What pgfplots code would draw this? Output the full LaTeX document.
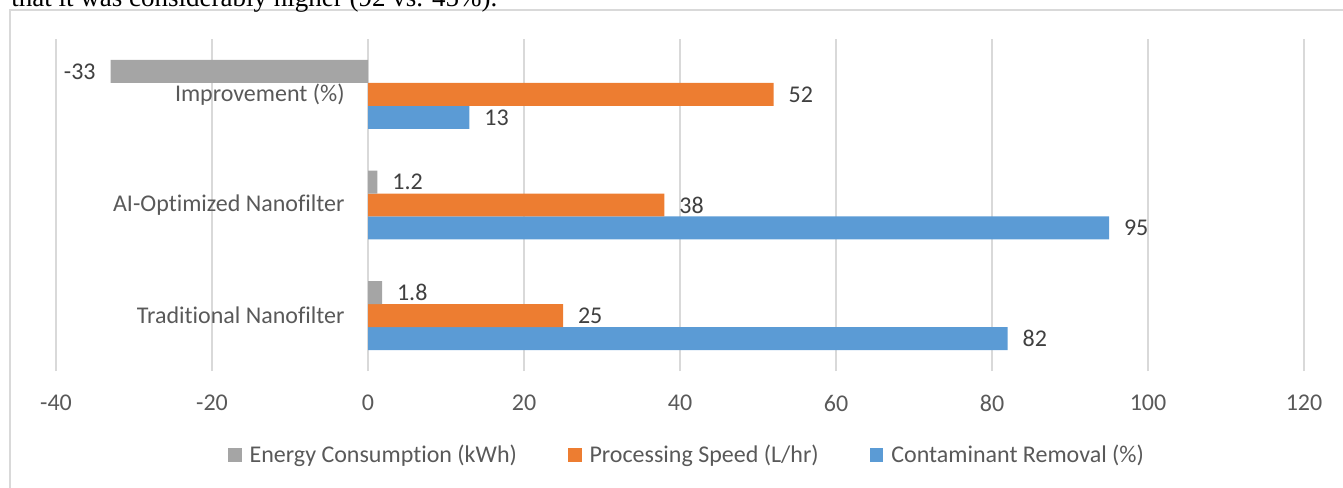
\documentclass[border=0pt]{standalone}
\usepackage{fontspec}
\setmainfont{Carlito}[Ligatures=NoCommon]
\newfontfamily\serif{Liberation Serif}
\usepackage{pgfplots}
\pgfplotsset{compat=1.18}
\definecolor{cblue}{HTML}{5B9BD5}
\definecolor{corange}{HTML}{ED7D31}
\definecolor{cgray}{HTML}{A5A5A5}
\definecolor{gridc}{HTML}{D9D9D9}
\definecolor{txt}{HTML}{595959}
\definecolor{lbl}{HTML}{404040}

\begin{document}
\begin{tikzpicture}
% page frame and the cut-off line of text above the chart
\draw[gridc, line width=0.8pt] (5pt,-2pt) -- (5pt,238.5pt) -- (680pt,238.5pt);
\node[anchor=base west, inner sep=0pt, font=\serif\fontsize{13.5}{16}\selectfont]
  at (5.5pt,240.3pt) {that it was considerably higher (92 vs. 45\%).};

\begin{axis}[
    at={(28pt,58pt)}, anchor=south west,
    scale only axis,
    width=624pt, height=166pt,
    xbar,
    bar width=0.2078,
    xmin=-40, xmax=120,
    ymin=-0.5, ymax=2.5,
    xtick={-40,-20,...,120},
    ytick={0,1,2},
    yticklabels={Traditional Nanofilter, AI-Optimized Nanofilter, Improvement (\%)},
    font=\fontsize{12}{14}\selectfont,
    /pgf/number format/assume math mode=true,
    axis line style={draw=none},
    major tick length=0pt,
    xmajorgrids,
    grid style={gridc, line width=0.8pt},
    xticklabel style={text=txt, inner sep=0pt, anchor=north, yshift=-12pt},
    yticklabel style={text=txt, inner sep=0pt, anchor=east, xshift=144.5pt},
    nodes near coords,
    every node near coord/.append style={text=lbl, inner sep=0pt, outer sep=7.5pt,
        font=\fontsize{12}{14}\selectfont},
    legend image code/.code={\fill[#1] (0pt,-3.4pt) rectangle (6.8pt,3.4pt);},
    reverse legend,
    legend style={at={(0.5048,-0.2530)}, anchor=center, draw=none, fill=none,
        legend columns=-1, text=txt, nodes={inner sep=0pt},
        /tikz/every odd column/.append style={column sep=4pt},
        /tikz/every even column/.append style={column sep=25.5pt}},
]
\addplot[fill=cblue, draw=none, bar shift=-0.2078] coordinates {(82,0) (95,1) (13,2)};
\addplot[fill=corange, draw=none, bar shift=0] coordinates {(25,0) (38,1) (52,2)};
\addplot[fill=cgray, draw=none, bar shift=0.2078] coordinates {(1.8,0) (1.2,1) (-33,2)};
\legend{Contaminant Removal (\%), Processing Speed (L/hr), Energy Consumption (kWh)}
\end{axis}

\pgfresetboundingbox
\path[use as bounding box] (0,0) rectangle (671.5pt,243.5pt);
\end{tikzpicture}
\end{document}
